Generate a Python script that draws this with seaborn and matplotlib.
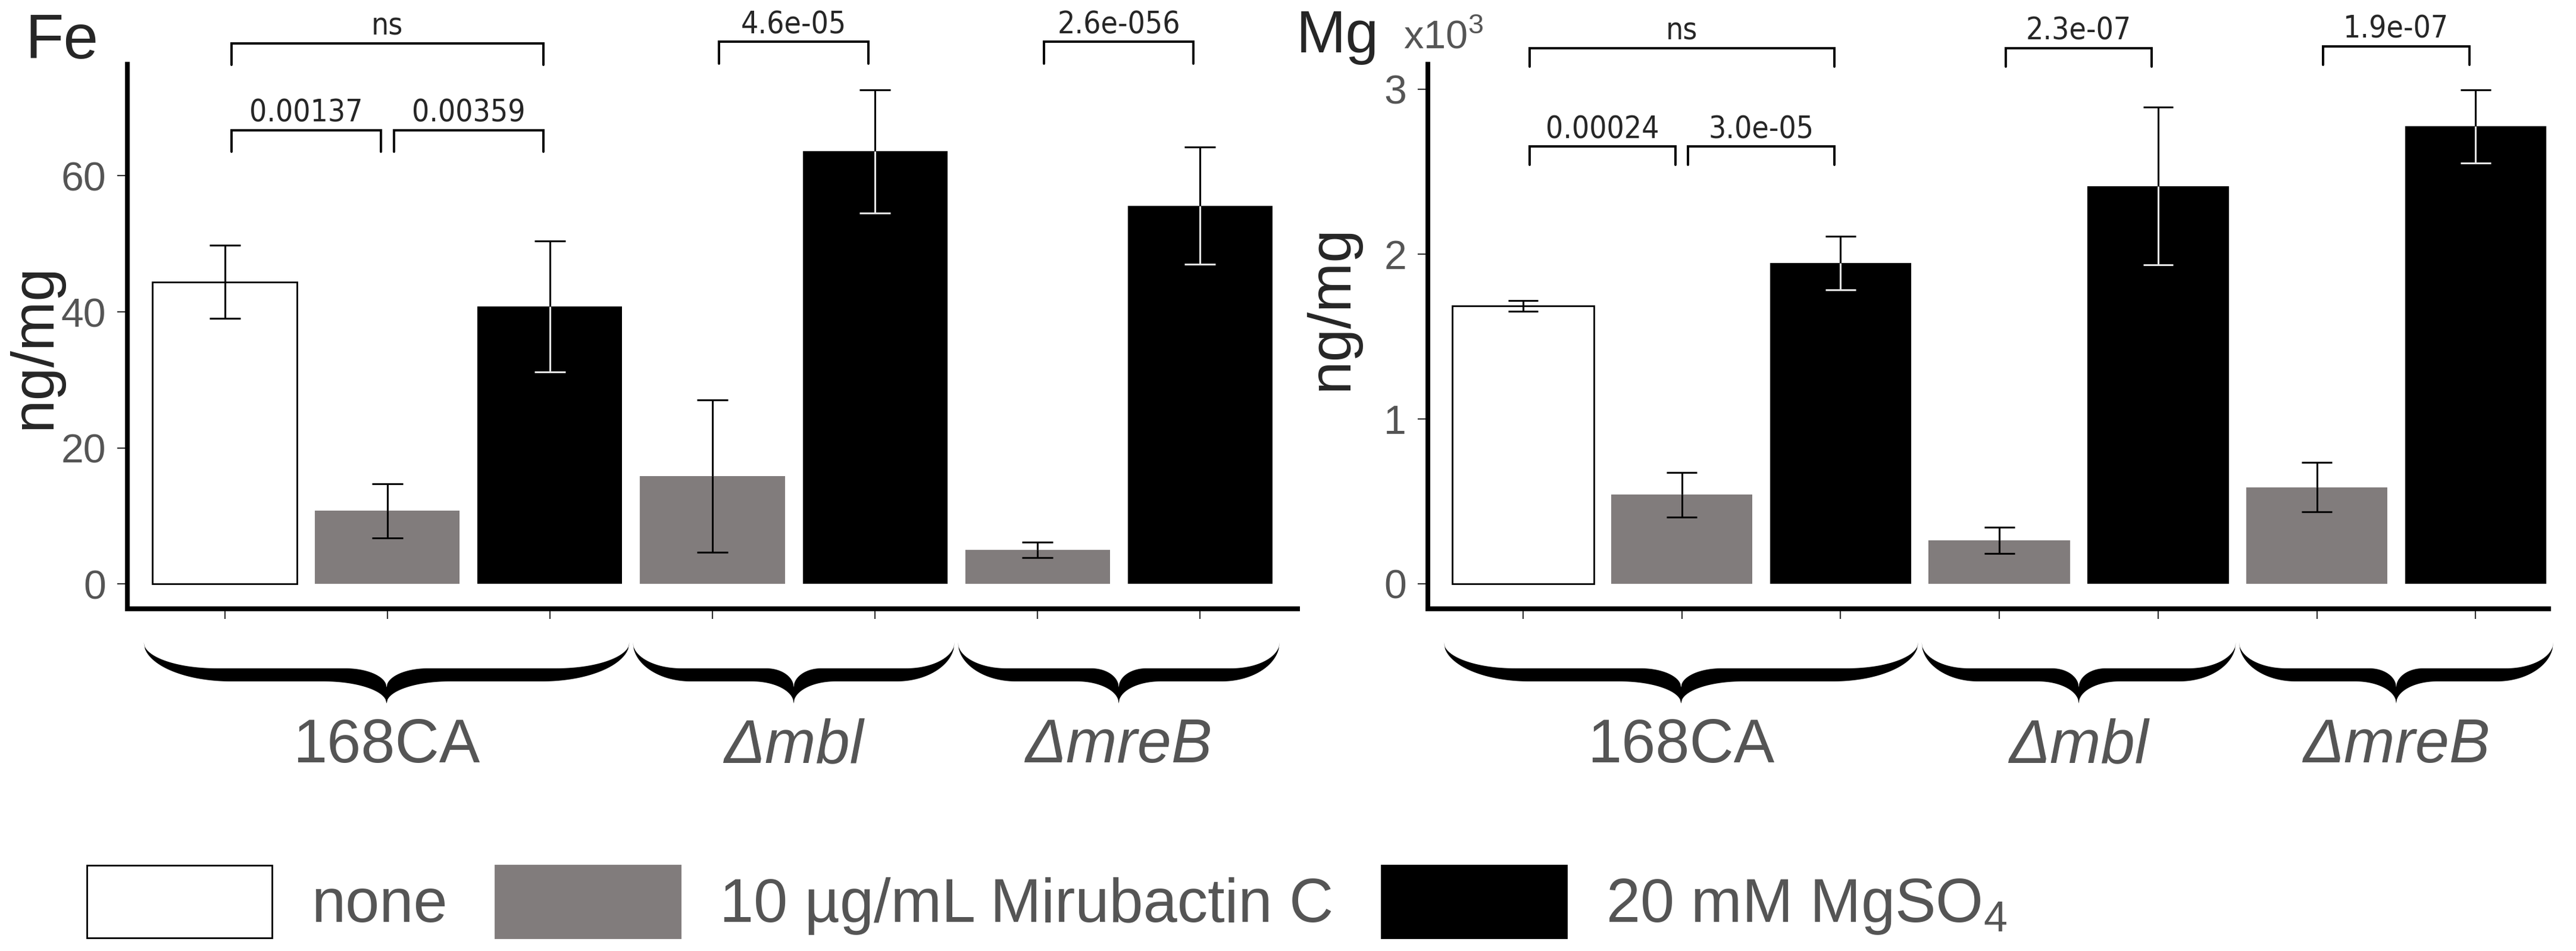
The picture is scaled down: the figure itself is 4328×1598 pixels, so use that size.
import numpy as np
import pandas as pd
import seaborn as sns
import matplotlib.pyplot as plt
from matplotlib.patches import Patch, Polygon
from matplotlib.transforms import blended_transform_factory

# bars, left to right (same order in both panels)
strains = ['168CA', '168CA', '168CA', 'Δmbl', 'Δmbl', 'ΔmreB', 'ΔmreB']
treatments = ['none', 'mir', 'mg', 'mir', 'mg', 'mir', 'mg']
groups = ['168CA', 'Δmbl', 'ΔmreB']

# Fe content (ng/mg), mean and error
fe_mean = [44.4, 10.75, 40.8, 15.85, 63.6, 5.0, 55.6]
fe_sd = [5.4, 4.0, 9.6, 11.2, 9.05, 1.15, 8.6]

# Mg content (ng/mg x10^3), mean and error
mg_mean = [1.685, 0.54, 1.946, 0.263, 2.412, 0.585, 2.774]
mg_sd = [0.032, 0.135, 0.163, 0.078, 0.478, 0.15, 0.223]

# significance brackets: (bar i, bar j, label)
fe_sig = [(0, 2, 'ns'), (0, 1, '0.00137'), (1, 2, '0.00359'), (3, 4, '4.6e-05'), (5, 6, '2.6e-056')]
fe_sig_y = [79.5, 66.7, 66.7, 79.7, 79.7]
mg_sig = [(0, 2, 'ns'), (0, 1, '0.00024'), (1, 2, '3.0e-05'), (3, 4, '2.3e-07'), (5, 6, '1.9e-07')]
mg_sig_y = [3.25, 2.653, 2.653, 3.25, 3.26]

treat_order = ['none', 'mir', 'mg']
treat_labels = ['none', '10 µg/mL Mirubactin C', '20 mM MgSO$_4$']
palette = {'none': 'white', 'mir': '#817c7c', 'mg': 'black'}

W, H, DPI = 4328, 1598, 200
GREY = '#555555'

sns.set_style('white')
plt.rcParams['font.family'] = ['Liberation Sans', 'DejaVu Sans']
plt.rcParams['mathtext.fontset'] = 'custom'
plt.rcParams['mathtext.rm'] = 'Liberation Sans'
plt.rcParams['mathtext.it'] = 'Liberation Sans:italic'

fig = plt.figure(figsize=(W / DPI, H / DPI), dpi=DPI)
ax_fe = fig.add_axes([214 / W, 1 - 1023 / H, 1966 / W, 915 / H])
ax_mg = fig.add_axes([2399 / W, 1 - 1023 / H, 1883 / W, 915 / H])

bar_ids = [f'{s}|{t}' for s, t in zip(strains, treatments)]


def brace(ax, x0, x1):
    # curly brace below the axis; x in data units, y in figure pixels
    tr = blended_transform_factory(ax.transData, fig.transFigure)
    L = (x1 - x0) / 2
    u = np.linspace(0, 1, 60)
    top = 1079

    def edge(band, yend, a, c):
        d = np.concatenate([a * u, L - c + c * u])
        y = np.concatenate([band + (top - band) * (1 - np.sqrt(1 - (1 - u) ** 2)),
                            band + (yend - band) * (1 - np.sqrt(1 - u ** 2))])
        return d, y

    du, yu = edge(1123, 1155, 0.30 * L, 0.17 * L)
    dl, yl = edge(1145, 1182, 0.36 * L, 0.26 * L)
    xs = np.concatenate([x0 + du, (x1 - du)[::-1], x1 - dl, (x0 + dl)[::-1]])
    ys = np.concatenate([yu, yu[::-1], yl, yl[::-1]])
    ax.add_patch(Polygon(np.column_stack([xs, 1 - ys / H]), closed=True, transform=tr,
                         clip_on=False, fc='black', ec='none'))


def panel(ax, means, sds, sig, sig_y, tip, ylim, yticks, xright):
    df = pd.DataFrame({'bar': bar_ids, 'treatment': treatments, 'value': means})
    sns.barplot(data=df, x='bar', y='value', hue='treatment', order=bar_ids,
                hue_order=treat_order, palette=palette, dodge=False, width=0.89,
                errorbar=None, saturation=1, legend=False, ax=ax)
    for p in ax.patches:
        if p.get_facecolor()[0] > 0.99:
            p.set_edgecolor('black')
            p.set_linewidth(1.0)
        else:
            p.set_linewidth(0)

    x = np.arange(len(means))
    m = np.array(means)
    s = np.array(sds)
    low_col = ['#e4e4e4' if t == 'mg' else 'black' for t in treatments]
    ax.vlines(x, m, m + s, color='black', lw=1.1)
    ax.hlines(m + s, x - 0.095, x + 0.095, color='black', lw=1.1)
    ax.vlines(x, m - s, m, colors=low_col, lw=1.1)
    ax.hlines(m - s, x - 0.095, x + 0.095, colors=low_col, lw=1.1)

    for (i, j, lab), y in zip(sig, sig_y):
        x0, x1 = i + 0.04, j - 0.04
        ax.plot([x0, x0, x1, x1], [y - tip, y, y, y - tip], color='black', lw=1.4,
                clip_on=False, solid_joinstyle='miter')
        ax.annotate(lab, xy=((x0 + x1) / 2, y), xytext=(0, 5), textcoords='offset points',
                    ha='center', va='baseline', family='DejaVu Sans', fontstretch='condensed',
                    size=18.5, annotation_clip=False)

    # braces and strain names
    tr = blended_transform_factory(ax.transData, fig.transFigure)
    for k, g in enumerate(groups):
        idx = [n for n, st in enumerate(strains) if st == g]
        x0 = min(idx) - 0.5 + (0.01 if k else 0)
        x1 = max(idx) + 0.49
        brace(ax, x0, x1)
        ax.text((x0 + x1) / 2, 1 - 1255 / H, g, transform=tr, ha='center', va='center',
                size=37, color=GREY, style='italic' if k else 'normal')

    ax.set_xlim(-0.6, xright)
    ax.set_ylim(*ylim)
    ax.set_yticks(yticks)
    ax.set_xticks(x)
    ax.set_xticklabels([])
    ax.set_xlabel('')
    ax.set_ylabel('')
    ax.tick_params(axis='both', length=6, width=0.8, color='#333333', labelsize=24.5,
                   labelcolor=GREY, pad=7, left=True, bottom=True)
    for side in ['top', 'right']:
        ax.spines[side].set_visible(False)
    for side in ['left', 'bottom']:
        ax.spines[side].set_linewidth(2.9)
        ax.spines[side].set_color('black')


panel(ax_fe, fe_mean, fe_sd, fe_sig, fe_sig_y, 3.2, (-3.65, 76.4), [0, 20, 40, 60], 6.6)
panel(ax_mg, mg_mean, mg_sd, mg_sig, mg_sig_y, 0.113, (-0.152, 3.151), [0, 1, 2, 3], 6.46)

fig.text(58 / W, 1 - 582 / H, 'ng/mg', rotation=90, ha='center', va='center', size=36)
fig.text(2237 / W, 1 - 517 / H, 'ng/mg', rotation=90, ha='center', va='center', size=36)
fig.text(42 / W, 1 - 98 / H, 'Fe', ha='left', va='baseline', size=38)
fig.text(2178 / W, 1 - 88 / H, 'Mg', ha='left', va='baseline', size=36)
fig.text(2358 / W, 1 - 82 / H, 'x10$^3$', ha='left', va='baseline', size=24, color=GREY)

handles = [Patch(facecolor=palette[t], edgecolor='black' if t == 'none' else palette[t],
                 linewidth=1.0) for t in treat_order]
fig.legend(handles, treat_labels, loc='center left', bbox_to_anchor=(146 / W, 1 - 1515 / H),
           ncol=3, frameon=False, fontsize=37, labelcolor=GREY, handlelength=3.03,
           handleheight=1.45, handletextpad=0.64, columnspacing=0.78, borderpad=0,
           borderaxespad=0)

fig.savefig('out.png', dpi=DPI)
